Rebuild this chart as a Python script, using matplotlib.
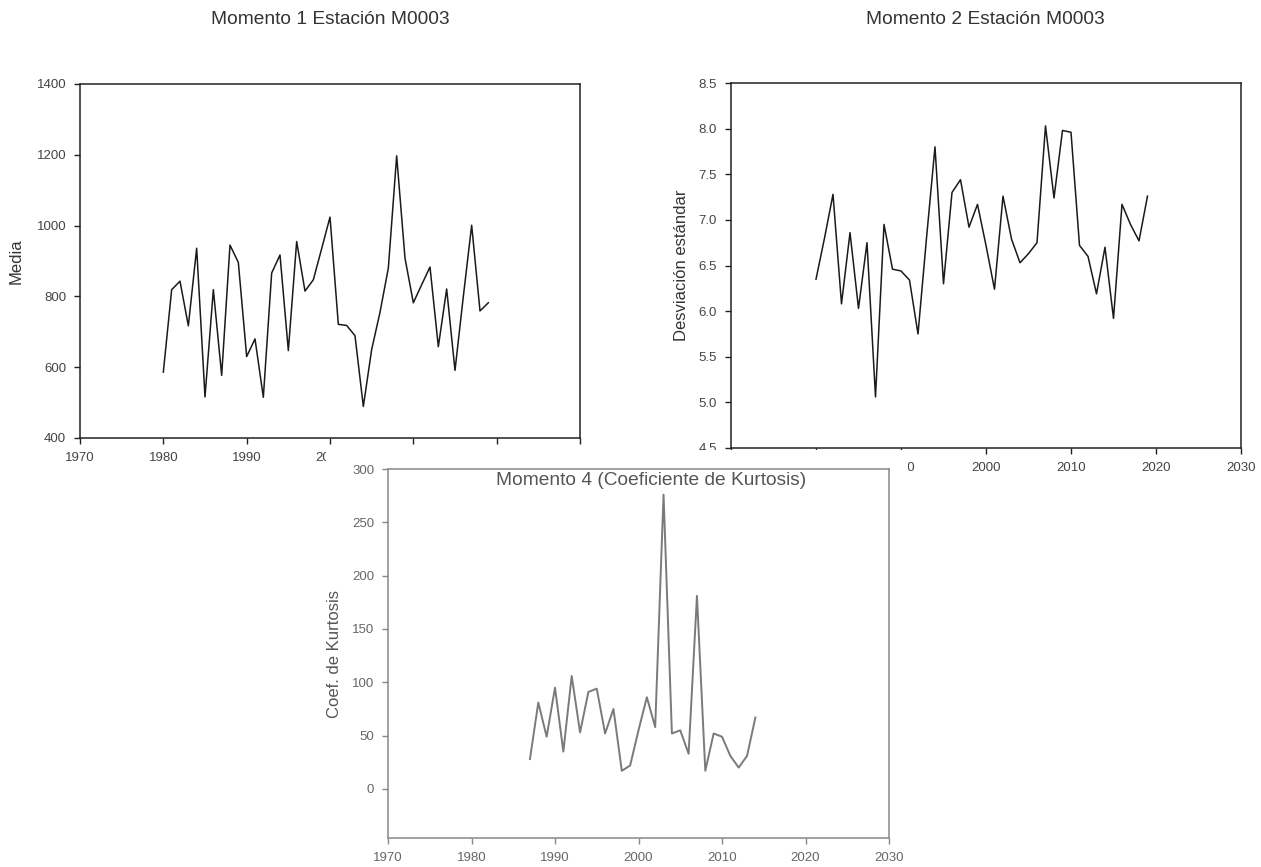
import matplotlib
matplotlib.use("Agg")
import matplotlib.pyplot as plt
from matplotlib.patches import Rectangle

plt.rcParams['font.family'] = ['Liberation Sans', 'DejaVu Sans']

W, H = 1261, 867

# Momento 1: media anual
years_m1 = list(range(1980, 2020))
media = [586, 819, 843, 717, 936, 516, 819, 577, 945, 896,
         630, 680, 515, 866, 917, 647, 955, 815, 847, 935,
         1024, 721, 718, 689, 489, 650, 755, 880, 1197, 908,
         782, 833, 883, 658, 821, 591, 800, 1001, 759, 782]

# Momento 2: desviacion estandar
years_m2 = list(range(1980, 2020))
desv = [6.35, 6.80, 7.28, 6.08, 6.86, 6.03, 6.75, 5.06, 6.95, 6.46,
        6.44, 6.34, 5.75, 6.80, 7.80, 6.30, 7.30, 7.44, 6.92, 7.17,
        6.72, 6.24, 7.26, 6.79, 6.53, 6.63, 6.75, 8.03, 7.24, 7.98,
        7.96, 6.72, 6.60, 6.19, 6.70, 5.92, 7.17, 6.95, 6.77, 7.26]

# Momento 4: coeficiente de kurtosis
years_m4 = list(range(1987, 2015))
kurt = [28, 81, 49, 95, 35, 106, 53, 91, 94, 52,
        75, 17, 22, 55, 86, 58, 276, 52, 55, 33,
        181, 17, 52, 49, 31, 20, 31, 67]

x_ticks = [1970, 1980, 1990, 2000, 2010, 2020, 2030]


def px_rect(l, t, r, b):
    return [l / W, 1 - b / H, (r - l) / W, (b - t) / H]


def style_axes(ax, color, tick_color):
    for s in ax.spines.values():
        s.set_color(color)
        s.set_linewidth(1.1)
    ax.tick_params(direction='out', length=4, width=1, color=color,
                   labelsize=9.5, labelcolor=tick_color, pad=6,
                   top=False, right=False)
    ax.set_xlim(1970, 2030)
    ax.set_xticks(x_ticks)


fig = plt.figure(figsize=(W / 100, H / 100), dpi=100)

# Momento 1
ax1 = fig.add_axes(px_rect(80, 84, 580, 438), zorder=0)
ax1.plot(years_m1, media, color='#1a1a1a', lw=1.1)
style_axes(ax1, '#222222', '#444444')
ax1.set_ylim(400, 1400)
ax1.set_yticks(range(400, 1401, 200))
ax1.set_ylabel('Media', fontsize=12, color='#333333', labelpad=9)
fig.text(330 / W, 1 - 19 / H, 'Momento 1 Estación M0003', fontsize=13.8,
         color='#333333', ha='center', va='center')

# Momento 2
ax2 = fig.add_axes(px_rect(731, 83, 1241, 448), zorder=0)
ax2.plot(years_m2, desv, color='#1a1a1a', lw=1.1)
style_axes(ax2, '#222222', '#444444')
ax2.set_ylim(4.5, 8.5)
ax2.set_yticks([4.5, 5.0, 5.5, 6.0, 6.5, 7.0, 7.5, 8.0, 8.5])
ax2.set_yticklabels(['%.1f' % v for v in ax2.get_yticks()])
ax2.set_ylabel('Desviación estándar', fontsize=12, color='#333333', labelpad=7)
fig.text(985 / W, 1 - 19 / H, 'Momento 2 Estación M0003', fontsize=13.8,
         color='#333333', ha='center', va='center')

# white panel of the pasted third chart
fig.add_artist(Rectangle((326 / W, 0), (908 - 326) / W, 1 - 450 / H,
                         transform=fig.transFigure, facecolor='white',
                         edgecolor='none', zorder=1))

# Momento 4
ax3 = fig.add_axes(px_rect(388, 469, 889, 838), zorder=2)
ax3.plot(years_m4, kurt, color='#7a7a7a', lw=1.4)
style_axes(ax3, '#888888', '#666666')
ax3.set_ylim(-46, 300)
ax3.set_yticks(range(0, 301, 50))
ax3.set_ylabel('Coef. de Kurtosis', fontsize=12, color='#555555', labelpad=7)
ax3.text(0.525, 0.97, 'Momento 4 (Coeficiente de Kurtosis)', fontsize=13.8,
         color='#555555', ha='center', va='center', transform=ax3.transAxes)

fig.savefig('out.png', dpi=100)
